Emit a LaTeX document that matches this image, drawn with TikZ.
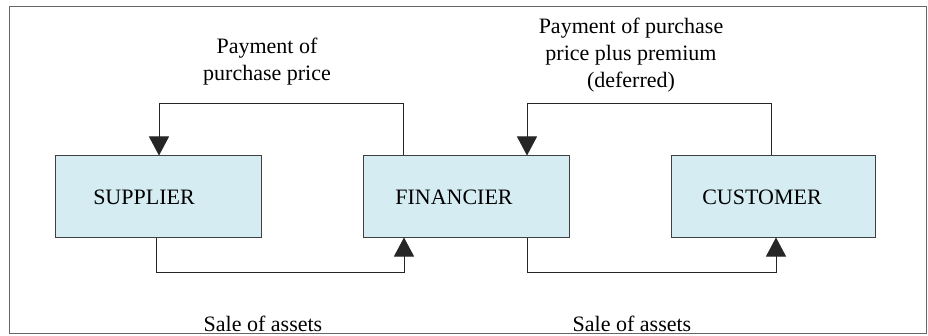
\documentclass[tikz,border=0pt]{standalone}
\usepackage{fontspec}
\setmainfont{Liberation Serif}
\usetikzlibrary{arrows.meta}
\definecolor{boxfill}{HTML}{D4ECF2}
\definecolor{edge}{HTML}{404040}
\tikzset{
  frame/.style={draw=edge!80, line width=1pt},
  box/.style={draw=edge, line width=1pt, fill=boxfill, minimum height=81pt, inner sep=0pt},
  boxtext/.style={font=\fontsize{22}{26}\selectfont, inner sep=0pt},
  lbl/.style={font=\fontsize{22}{27}\selectfont, align=center, inner sep=0pt},
  conn/.style={draw=black!85, line width=1pt, -{Triangle[width=20pt,length=19pt]}}
}
\begin{document}
\begin{tikzpicture}[x=1pt,y=1pt]
\useasboundingbox (0,0) rectangle (928,335);
\draw[frame] (9,2) rectangle (926,328);
\node[box, minimum width=206pt] (sup) at (158,138.5) {};
\node[box, minimum width=206pt] (fin) at (466,138.5) {};
\node[box, minimum width=204pt] (cus) at (773,138.5) {};
\node[boxtext] (supt) at (144,138) {SUPPLIER};
\node[boxtext] (fint) at (454,138) {FINANCIER};
\node[boxtext] (cust) at (762,138) {CUSTOMER};
\draw[conn] ([xshift=-63pt]fin.north) -- ++(0,52) -| ([xshift=1pt]sup.north);
\draw[conn] ([xshift=-2pt]sup.south) -- ++(0,-35) -| ([xshift=-62pt]fin.south);
\draw[conn] ([xshift=-2pt]cus.north) -- ++(0,52) -| ([xshift=61pt]fin.north);
\draw[conn] ([xshift=61pt]fin.south) -- ++(0,-35) -| ([xshift=3pt]cus.south);
\node[lbl] (l1) at (267,273) {Payment of\\purchase price};
\node[lbl] (l2) at (631,280) {Payment of purchase\\price plus premium\\(deferred)};
\node[lbl, anchor=base] (l3) at (263,4) {Sale of assets};
\node[lbl, anchor=base] (l4) at (632,4) {Sale of assets};
\end{tikzpicture}
\end{document}
